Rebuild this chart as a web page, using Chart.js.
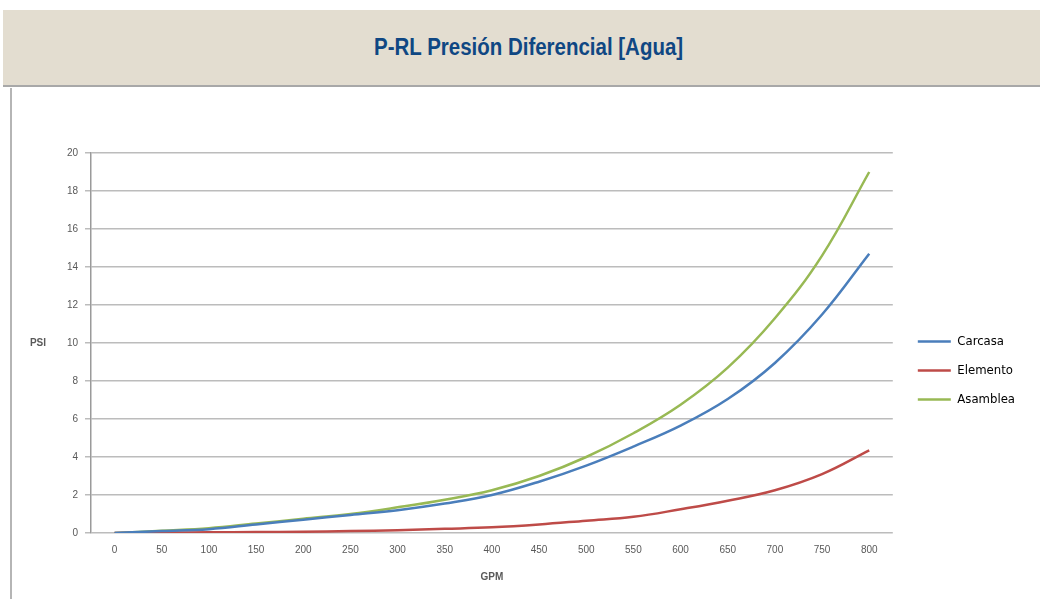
<!DOCTYPE html>
<html lang="es">
<head>
<meta charset="utf-8">
<title>P-RL Presión Diferencial [Agua]</title>
<script src="https://cdn.jsdelivr.net/npm/chart.js@4.4.1/dist/chart.umd.min.js"></script>
<style>
    html, body {
        margin: 0;
        padding: 0;
        background: #ffffff;
        width: 1040px;
        height: 599px;
        overflow: hidden;
        position: relative;
    }
    .banner {
        position: absolute;
        left: 3px;
        top: 10px;
        width: 1037px;
        height: 75px;
        background: #e3ddd0;
        border-bottom: 2px solid #a8a8a8;
        text-align: center;
    }
    .banner h1 {
        display: inline-block;
        margin: 0 0 0 14px;
        line-height: 75px;
        font-family: "Liberation Sans", Arial, sans-serif;
        font-weight: bold;
        font-size: 23px;
        color: #0f4783;
        transform: scaleX(0.89);
    }
    .panel {
        position: absolute;
        left: 10px;
        top: 88px;
        width: 1030px;
        height: 511px;
        border-left: 2px solid #b5b5b5;
    }
    #chartPresion {
        position: absolute;
        left: 12px;
        top: 140px;
    }
</style>
</head>
<body>
<div class="banner"><h1>P-RL Presión Diferencial [Agua]</h1></div>
<div class="panel"></div>
<canvas id="chartPresion" width="1028" height="459"></canvas>

<script>
// Caudal (GPM) en el eje X
const gpm = ['0', '50', '100', '150', '200', '250', '300', '350', '400',
             '450', '500', '550', '600', '650', '700', '750', '800'];

// Presión diferencial (PSI)
const carcasa   = [0, 0.1, 0.2, 0.45, 0.7, 0.95, 1.2, 1.55, 2.0, 2.7, 3.55, 4.55, 5.65, 7.05, 8.95, 11.5, 14.7];
const elemento  = [0, 0.02, 0.04, 0.05, 0.07, 0.1, 0.15, 0.22, 0.3, 0.45, 0.65, 0.85, 1.25, 1.7, 2.25, 3.1, 4.35];
const asamblea  = [0, 0.12, 0.25, 0.5, 0.75, 1.0, 1.35, 1.75, 2.25, 3.0, 4.0, 5.25, 6.75, 8.7, 11.3, 14.6, 19.0];

// Marcas del eje Y
const psiTicks = [0, 2, 4, 6, 8, 10, 12, 14, 16, 18, 20];

document.addEventListener('DOMContentLoaded', function() {
    const ctx = document.getElementById('chartPresion').getContext('2d');

    const tickFont = { family: "'Liberation Sans', Arial, sans-serif", size: 10 };
    const narrowFont = "'DejaVu Sans Condensed', 'Liberation Sans', sans-serif";

    // Etiqueta "PSI" horizontal y ajuste de posición de la leyenda
    const psiLabel = {
        id: 'psiLabel',
        afterLayout(chart) {
            // la leyenda queda un poco más separada y más abajo
            chart.legend.left += 9;
            chart.legend.right += 9;
            chart.legend.top += 5;
            chart.legend.bottom += 5;
        },
        afterDraw(chart) {
            const y = chart.scales.y;
            const c = chart.ctx;
            c.save();
            c.font = "bold 10px 'Liberation Sans', Arial, sans-serif";
            c.fillStyle = '#595959';
            c.textAlign = 'center';
            c.textBaseline = 'middle';
            c.fillText('PSI', 26, y.getPixelForValue(10));
            c.restore();
        }
    };

    function serie(label, data, color) {
        return {
            label: label,
            data: data,
            borderColor: color,
            backgroundColor: color,
            borderWidth: 2.5,
            pointRadius: 0,
            pointStyle: 'line',
            tension: 0.4,
            fill: false
        };
    }

    new Chart(ctx, {
        type: 'line',
        data: {
            labels: gpm,
            datasets: [
                serie('Carcasa', carcasa, '#4a7ebb'),
                serie('Elemento', elemento, '#be4b48'),
                serie('Asamblea', asamblea, '#98b954')
            ]
        },
        options: {
            responsive: false,
            animation: false,
            layout: {
                padding: { top: 8, bottom: 16, left: 0, right: 24 }
            },
            plugins: {
                legend: {
                    position: 'right',
                    labels: {
                        usePointStyle: true,
                        pointStyleWidth: 33,
                        boxHeight: 12,
                        padding: 16,
                        color: '#000000',
                        font: { family: narrowFont, size: 13 }
                    }
                },
                tooltip: { enabled: false }
            },
            scales: {
                x: {
                    offset: true,
                    grid: { display: false, drawTicks: false },
                    border: { display: false },
                    ticks: {
                        color: '#595959',
                        font: tickFont,
                        padding: 11,
                        maxRotation: 0
                    },
                    title: {
                        display: true,
                        text: 'GPM',
                        color: '#595959',
                        font: { family: "'Liberation Sans', Arial, sans-serif", size: 10, weight: 'bold' },
                        padding: { top: 4, bottom: 0 }
                    }
                },
                y: {
                    min: 0,
                    max: 20,
                    afterFit: function(scale) { scale.width = 79; },
                    afterBuildTicks: function(scale) {
                        scale.ticks = psiTicks.map(v => ({ value: v }));
                    },
                    grid: {
                        color: '#bcbcbc',
                        lineWidth: 1.5,
                        tickLength: 6
                    },
                    border: { color: '#9a9a9a', width: 1.5 },
                    ticks: {
                        color: '#595959',
                        font: tickFont,
                        padding: 7
                    }
                }
            }
        },
        plugins: [psiLabel]
    });
});
</script>
</body>
</html>
